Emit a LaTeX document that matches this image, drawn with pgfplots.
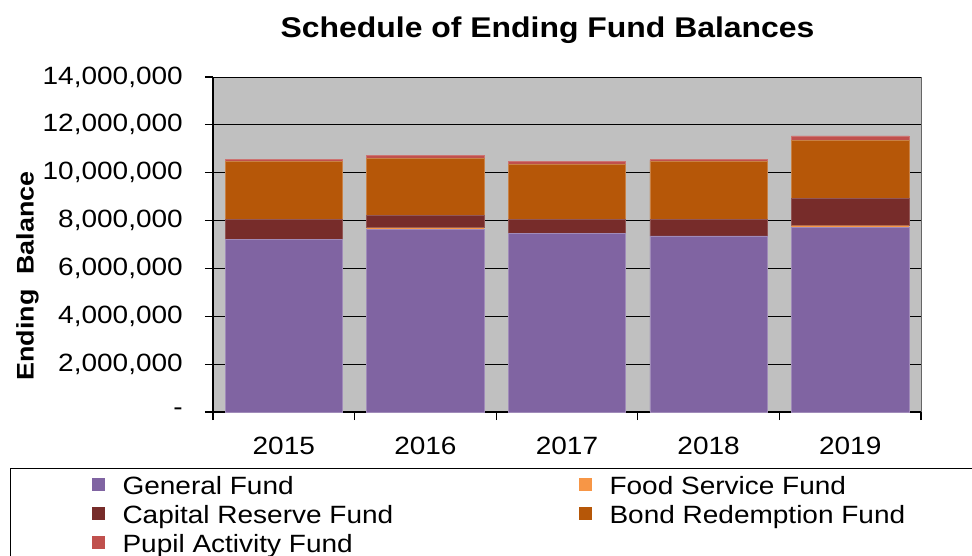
\documentclass[border=0pt]{standalone}
\usepackage{fontspec}
\setmainfont{Liberation Sans}[FakeStretch=1.12]
\usepackage{pgfplots}
\pgfplotsset{compat=1.18}
\definecolor{cGen}{HTML}{8064A2}
\definecolor{cFood}{HTML}{F79646}
\definecolor{cCap}{HTML}{772C2A}
\definecolor{cBond}{HTML}{B65708}
\definecolor{cPup}{HTML}{C0504D}
\definecolor{cBg}{HTML}{C0C0C0}
\begin{document}
\begin{tikzpicture}
\useasboundingbox (0,0) rectangle (972pt,-556pt);
\clip (0,0) rectangle (972pt,-556pt);
\begin{axis}[
  at={(213pt,-412pt)}, anchor=south west,
  scale only axis, width=708pt, height=335pt,
  ybar stacked, bar width=0.83,
  xmin=-0.5, xmax=4.5, ymin=0, ymax=14000000,
  xtick={0,1,2,3,4},
  xticklabels={2015,2016,2017,2018,2019},
  minor xtick={-0.5,0.5,1.5,2.5,3.5,4.5},
  major x tick style={draw=none},
  minor x tick style={black, line width=1.2pt},
  minor tick length=8pt,
  ytick={0,2000000,4000000,6000000,8000000,10000000,12000000,14000000},
  yticklabels={{-\hspace{16pt}},{2,000,000},{4,000,000},{6,000,000},{8,000,000},{10,000,000},{12,000,000},{14,000,000}},
  scaled y ticks=false,
  major tick length=8pt,
  tick align=outside,
  y tick style={black, line width=1.2pt},
  ymajorgrids, major grid style={black, line width=1pt},
  axis x line*=bottom, axis y line*=left,
  axis line style={-, black, line width=1.5pt},
  axis background/.style={fill=cBg, draw=gray!80!black, line width=1pt},
  tick label style={font=\fontsize{25}{30}\selectfont, inner sep=0pt},
  yticklabel style={xshift=-22pt},
  xticklabel style={yshift=-17pt},
  title={Schedule of Ending Fund Balances},
  title style={font=\fontsize{28.5}{34}\selectfont\bfseries, at={(axis description cs:0.4725,1.1254)}, anchor=base, inner sep=0pt, yshift=-9pt},
  ylabel={Ending\ \ Balance},
  ylabel style={font=\fontsize{24}{28}\selectfont\bfseries, at={(axis description cs:-0.262,0.406)}, anchor=center, inner sep=0pt},
  legend columns=2,
  legend image code/.code={\path[#1, draw=none] (0pt,-3pt) rectangle (13pt,10pt);},
  legend style={at={(axis description cs:-0.2867,-0.1672)}, anchor=north west,
    draw=black, line width=1pt, inner xsep=81pt, inner ysep=8pt,
    font=\fontsize{25}{30}\selectfont,
    nodes={inner sep=0pt, text height=18pt, text depth=5pt},
    row sep=6pt,
    /tikz/every odd column/.append style={column sep=18pt},
    /tikz/every even column/.append style={column sep=19pt}},
  legend cell align=left,
]
\addplot[fill=cGen, draw=cGen!75!white, line width=0.6pt] coordinates {(0,7210000) (1,7620000) (2,7450000) (3,7360000) (4,7700000)};
\addplot[fill=cFood, draw=none] coordinates {(0,0) (1,80000) (2,0) (3,0) (4,90000)};
\addplot[fill=cCap, draw=cCap!80!white, line width=0.6pt] coordinates {(0,830000) (1,500000) (2,590000) (3,680000) (4,1140000)};
\addplot[fill=cBond, draw=cBond!75!white, line width=0.6pt] coordinates {(0,2420000) (1,2410000) (2,2310000) (3,2420000) (4,2420000)};
\addplot[fill=cPup, draw=cPup!80!white, line width=0.6pt] coordinates {(0,80000) (1,100000) (2,110000) (3,80000) (4,190000)};
\legend{\makebox[437pt][l]{General Fund},\makebox[437pt][l]{Food Service Fund},\makebox[437pt][l]{Capital Reserve Fund},\makebox[437pt][l]{Bond Redemption Fund},\makebox[437pt][l]{Pupil Activity Fund}}
\end{axis}
\end{tikzpicture}
\end{document}
